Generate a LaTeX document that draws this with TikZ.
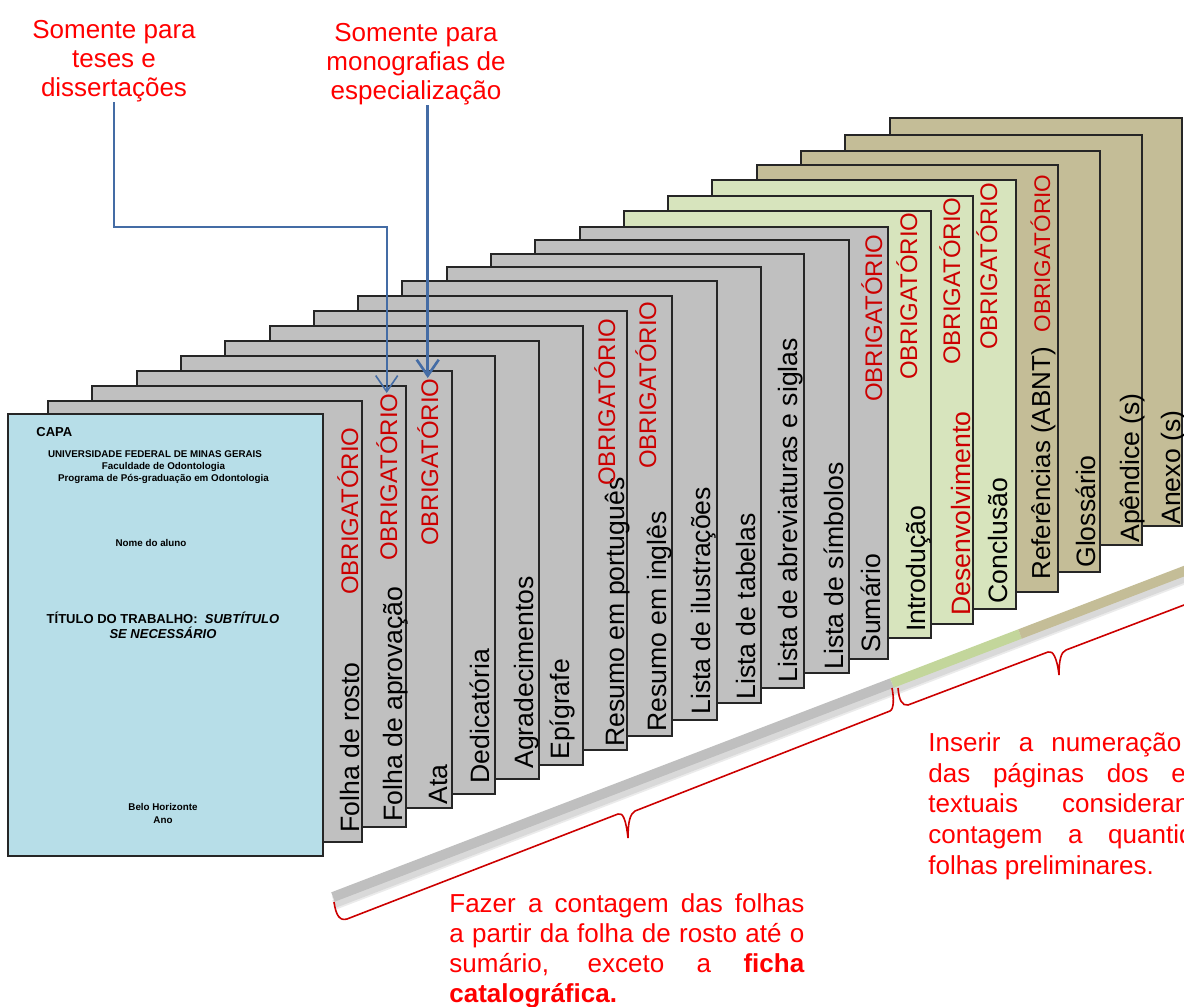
\documentclass[tikz,border=0pt]{standalone}
\usepackage{fontspec}
\setmainfont{Liberation Sans}
\usetikzlibrary{arrows.meta}

\definecolor{cinza}{RGB}{192,192,192}
\definecolor{verde}{RGB}{215,228,189}
\definecolor{bege}{RGB}{196,189,151}
\definecolor{azulcapa}{RGB}{183,222,232}
\definecolor{vermelho}{RGB}{255,0,0}
\definecolor{obrig}{RGB}{204,0,0}
\definecolor{azulseta}{RGB}{68,108,165}
\definecolor{barracinza}{RGB}{191,191,191}
\definecolor{barraverde}{RGB}{195,214,155}

\begin{document}
\begin{tikzpicture}[
	x=0.5pt, y=-0.5pt,
	folha/.style={ draw=black!85, line width=0.6pt },
	rotulo/.style={ rotate=90, anchor=base west, inner sep=0pt, font=\fontsize{13.3}{15}\selectfont },
	obrigatorio/.style={ rotate=90, anchor=base east, inner sep=0pt, text=obrig, font=\fontsize{12}{13}\selectfont },
	nota/.style={ text=vermelho, inner sep=0pt, font=\fontsize{13}{14.5}\selectfont },
	capatxt/.style={ inner sep=0pt, align=center, font=\bfseries\fontsize{4.9}{6.25}\selectfont },
	seta/.style={ azulseta, -{Straight Barb[length=8pt,width=11pt]} },
	chave/.style={ draw=obrig, line width=0.8pt }
]

\useasboundingbox (0,0) rectangle (1184,1007);
\clip (0,0) rectangle (1184,1007);

\draw[folha, fill=bege] (890,118) rectangle (1182,526);
\node[rotulo] (anexo) at (1180,525) {Anexo (s)};

\draw[folha, fill=bege] (845,135) rectangle (1142,545);
\node[rotulo] (apendice) at (1139,543) {Apêndice (s)};

\draw[folha, fill=bege] (801,151) rectangle (1100,572);
\node[rotulo] (glossario) at (1095,568) {Glossário};

\draw[folha, fill=bege] (757,165) rectangle (1058,592);
\node[rotulo, font=\fontsize{13}{15}\selectfont] (referencias) at (1050,580) {Referências (ABNT)\ \ {\color{obrig}\fontsize{11.3}{13}\selectfont OBRIGATÓRIO}};

\draw[folha, fill=verde] (712,180) rectangle (1016,609);
\node[rotulo] (conclusao) at (1007,604) {Conclusão};
\node[obrigatorio] (ob16) at (997,182) {OBRIGATÓRIO};

\draw[folha, fill=verde] (668,196) rectangle (973,624);
\node[rotulo, text=obrig] (desenv) at (970,616) {Desenvolvimento};
\node[obrigatorio] (ob15) at (960,197) {OBRIGATÓRIO};

\draw[folha, fill=verde] (624,211) rectangle (931,638);
\node[rotulo] (introducao) at (925,632) {Introdução};
\node[obrigatorio] (ob14) at (917,212) {OBRIGATÓRIO};

\draw[folha, fill=cinza] (580,227) rectangle (888,659);
\node[rotulo] (sumario) at (880,653) {Sumário};
\node[obrigatorio] (ob13) at (882,234) {OBRIGATÓRIO};

\draw[folha, fill=cinza] (535,240) rectangle (849,673);
\node[rotulo] (simbolos) at (843,670) {Lista de símbolos};

\draw[folha, fill=cinza] (491,254) rectangle (804,688);
\node[rotulo] (abreviaturas) at (797,683) {Lista de abreviaturas e siglas};

\draw[folha, fill=cinza] (447,267) rectangle (761,703);
\node[rotulo] (tabelas) at (755,700) {Lista de tabelas};

\draw[folha, fill=cinza] (402,281) rectangle (717,720);
\node[rotulo] (ilustracoes) at (710,715) {Lista de ilustrações};

\draw[folha, fill=cinza] (358,296) rectangle (672,736);
\node[rotulo] (ingles) at (666,732) {Resumo em inglês};
\node[obrigatorio] (ob8) at (656,301) {OBRIGATÓRIO};

\draw[folha, fill=cinza] (314,311) rectangle (627,750);
\node[rotulo] (portugues) at (624,747) {Resumo em português};
\node[obrigatorio] (ob7) at (615,318) {OBRIGATÓRIO};

\draw[folha, fill=cinza] (270,326) rectangle (583,765);
\node[rotulo] (epigrafe) at (569,760) {Epígrafe};

\draw[folha, fill=cinza] (225,341) rectangle (539,779);
\node[rotulo] (agradec) at (533,769) {Agradecimentos};

\draw[folha, fill=cinza] (181,356) rectangle (495,794);
\node[rotulo] (dedicatoria) at (489,784) {Dedicatória};

\draw[folha, fill=cinza] (137,371) rectangle (452,808);
\node[rotulo] (ata) at (447,805) {Ata};
\node[obrigatorio] (ob3) at (438,378) {OBRIGATÓRIO};

\draw[folha, fill=cinza] (92,386) rectangle (406,827);
\node[rotulo] (aprovacao) at (402,822) {Folha de aprovação};
\node[obrigatorio] (ob2) at (397,393) {OBRIGATÓRIO};

\draw[folha, fill=cinza] (48,401) rectangle (362,842);
\node[rotulo] (rosto) at (359,833) {Folha de rosto};
\node[obrigatorio] (ob1) at (358,427) {OBRIGATÓRIO};

\draw[folha, fill=azulcapa] (8,414) rectangle (323,856);
\node[capatxt, anchor=west, font=\bfseries\fontsize{6.5}{7.5}\selectfont] (tcapa) at (36,432) {CAPA};
\node[capatxt] (univ) at (155,454) {UNIVERSIDADE FEDERAL DE MINAS GERAIS};
\node[capatxt] (facul) at (163.5,467) {Faculdade de Odontologia};
\node[capatxt] (progr) at (163.5,479) {Programa de Pós-graduação em Odontologia};
\node[capatxt] (aluno) at (151,543) {Nome do aluno};
\node[capatxt, font=\bfseries\fontsize{6.5}{7.5}\selectfont] (titulo) at (163,625.5) {TÍTULO DO TRABALHO:\ \ \textit{SUBTÍTULO}\\\textit{SE NECESSÁRIO}};
\node[capatxt] (local) at (163,813.5) {Belo Horizonte\\Ano};

\coordinate (b1) at (333,897);
\coordinate (b2) at (892,683);
\coordinate (b3) at (1020,634);
\coordinate (b4) at (1200,565);
\draw[line width=5pt, black, opacity=0.08] ([shift={(1,8)}]b1) -- ([shift={(1,8)}]b4);
\draw[line width=6pt, black, opacity=0.08] ([shift={(1,5)}]b1) -- ([shift={(1,5)}]b4);
\draw[line width=5pt, barracinza] (b1) -- (b2);
\draw[line width=5pt, barraverde] (b2) -- (b3);
\draw[line width=5pt, bege] (b3) -- (b4);

\draw[chave] (334,902) .. controls (336,916) and (340,921) .. (347,919) -- (618,814) .. controls (623,812) and (626,820) .. (628,838) .. controls (628,822) and (630,814) .. (635,811) -- (890,711) .. controls (894,709) and (894,698) .. (892,688);
\draw[chave] (898,688) .. controls (899,700) and (902,706) .. (908,705) -- (1048,652) .. controls (1053,650) and (1057,658) .. (1059,675) .. controls (1059,660) and (1061,652) .. (1066,650) -- (1205,597) .. controls (1211,595) and (1214,585) .. (1212,570);

\node[nota, align=center] (teses) at (114,61) {Somente para\\teses e\\dissertações};
\node[nota, align=center] (monog) at (416,64) {Somente para\\monografias de\\especialização};

\draw[seta, line width=0.8pt] (teses.south) |- (ob2.east |- 0,227) -- (ob2.east);
\draw[seta, line width=1.3pt] (monog.south -| ob3.east) -- (ob3.east);

\node[nota, anchor=north west, text width=177.5pt, align=justify, font=\fontsize{13}{15}\selectfont] (contagem) at (449,893) {Fazer a contagem das folhas\linebreak a partir da folha de rosto até o\linebreak sumário, exceto a \textbf{ficha}\linebreak \textbf{catalográfica.}};

\node[nota, anchor=north west, text width=181.5pt, align=justify, font=\fontsize{13}{15.4}\selectfont] (numeracao) at (928,732) {Inserir a numeração a partir\linebreak das páginas dos elementos\linebreak textuais considerando na\linebreak contagem a quantidade de\linebreak folhas preliminares.};

\end{tikzpicture}
\end{document}
